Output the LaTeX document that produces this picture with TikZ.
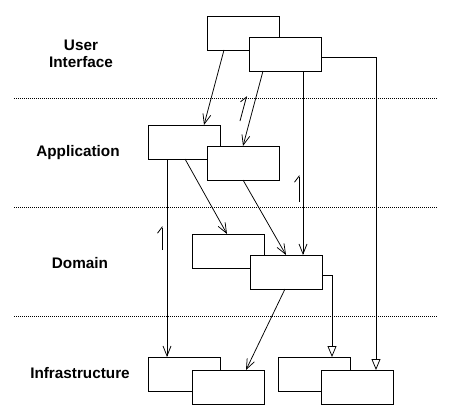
\documentclass[tikz,border=0pt]{standalone}
\usepackage{fontspec}
\setmainfont{Liberation Sans}
\usetikzlibrary{arrows.meta}
\begin{document}
\begin{tikzpicture}[x=1pt,y=-1pt,
  box/.style={draw,fill=white,line width=0.9pt,inner sep=0pt,outer sep=0pt,
    minimum width=72pt,minimum height=34pt,anchor=north west},
  layer/.style={font=\bfseries\fontsize{15.3}{17.5}\selectfont,align=center},
  sep/.style={line width=0.9pt,dash pattern=on 1pt off 1pt},
  dep/.style={line width=0.75pt,-{Straight Barb[length=10pt,width=8pt,line width=0.75pt]}},
  gen/.style={line width=0.75pt,-{Triangle[open,fill=white,length=11pt,width=9pt,line width=0.75pt]}},
  hint/.style={line width=0.8pt,-{Straight Barb[left,length=6pt,width=9pt,line width=0.8pt]}}]
\useasboundingbox (0,0) rectangle (461,415);

% layer separators
\draw[sep] (14,98) coordinate (s1a) -- (437,98) coordinate (s1b);
\draw[sep] (14,207) coordinate (s2a) -- (437,207) coordinate (s2b);
\draw[sep] (14,316) coordinate (s3a) -- (437,316) coordinate (s3b);

% layer names
\node[layer] (lui)  at (81,54)  {User\\Interface};
\node[layer] (lapp) at (78,153) {Application};
\node[layer] (ldom) at (80,263) {Domain};
\node[layer] (linf) at (80,373) {Infrastructure};

% user interface
\node[box] (ui1) at (207,16) {};
\node[box] (ui2) at (249,37) {};
% application
\node[box] (app1) at (148,125) {};
\node[box] (app2) at (207,146) {};
% domain
\node[box] (dom1) at (192,234) {};
\node[box] (dom2) at (250,255) {};
% infrastructure
\node[box] (inf1) at (148,357) {};
\node[box] (inf2) at (192,370) {};
\node[box] (inf3) at (278,357) {};
\node[box] (inf4) at (321,370) {};

% dependencies
\draw[dep] ([xshift=-19pt]ui1.south) -- ([xshift=20pt]app1.north);
\draw[dep] ([xshift=-22pt]ui2.south) -- (app2.north);
\draw[dep] ([xshift=1pt]app1.south) -- ([xshift=-1pt]dom1.north);
\draw[dep] (app2.south) -- (dom2.north);
\draw[dep] ([xshift=18pt]ui2.south) -- ([xshift=18pt]ui2.south |- dom2.north);
\draw[dep] ([xshift=-17pt]app1.south) -- ([xshift=-17pt]app1.south |- inf1.north);
\draw[dep] ([xshift=-1pt]dom2.south) -- ([xshift=18pt]inf2.north);

% realisations
\draw[gen] ([yshift=-3pt]dom2.east) -| ([xshift=18pt]inf3.north);
\draw[gen] ([yshift=-3pt]ui2.east) -| ([xshift=19pt]inf4.north);

% direction hints
\coordinate (h1a) at (240,121); \coordinate (h1b) at (246.7,96);
\coordinate (h2a) at (299,202); \coordinate (h2b) at (299,175);
\coordinate (h3a) at (162,250); \coordinate (h3b) at (162,226);
\draw[hint] (h1a) -- (h1b);
\draw[hint] (h2a) -- (h2b);
\draw[hint] (h3a) -- (h3b);
\end{tikzpicture}
\end{document}
